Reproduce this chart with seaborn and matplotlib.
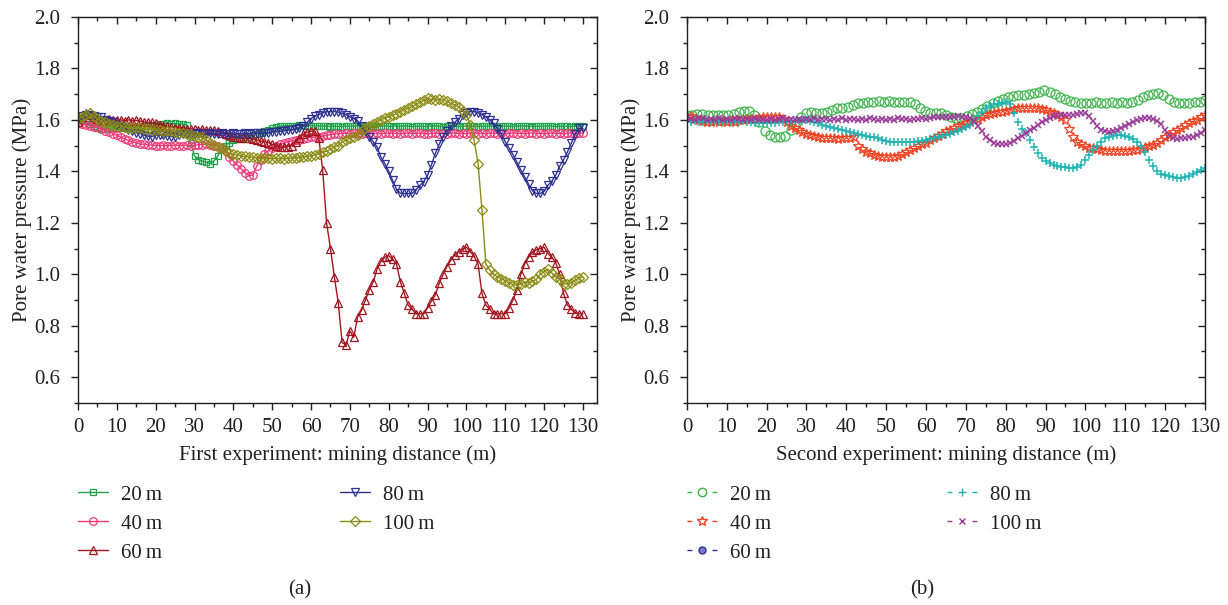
import numpy as np
import matplotlib
matplotlib.use("Agg")
import matplotlib.pyplot as plt
import seaborn as sns
from matplotlib.lines import Line2D
from matplotlib.ticker import MultipleLocator

# ---data: first experiment (1 m steps, 0-130 m)---
dist1 = np.arange(0, 131)

first_20m = [1.600, 1.600, 1.595, 1.585, 1.575, 1.568, 1.566, 1.566, 1.567, 1.568,
             1.568, 1.570, 1.570, 1.572, 1.572, 1.573, 1.574, 1.575, 1.577, 1.578,
             1.580, 1.584, 1.585, 1.586, 1.585, 1.586, 1.585, 1.584, 1.580, 1.510,
             1.460, 1.445, 1.440, 1.435, 1.430, 1.440, 1.460, 1.490, 1.500, 1.512,
             1.520, 1.527, 1.530, 1.532, 1.535, 1.540, 1.545, 1.550, 1.556, 1.562,
             1.568, 1.572, 1.575, 1.576, 1.577, 1.578, 1.578, 1.579, 1.579, 1.578,
             1.578, 1.577, 1.576, 1.576, 1.575, 1.574, 1.576, 1.575, 1.574, 1.576,
             1.575, 1.577, 1.576, 1.574, 1.575, 1.576, 1.575, 1.574, 1.576, 1.577,
             1.575, 1.574, 1.576, 1.575, 1.577, 1.576, 1.574, 1.575, 1.576, 1.575,
             1.574, 1.576, 1.577, 1.575, 1.574, 1.576, 1.575, 1.576, 1.574, 1.575,
             1.577, 1.576, 1.575, 1.574, 1.576, 1.575, 1.577, 1.576, 1.574, 1.575,
             1.576, 1.575, 1.574, 1.576, 1.577, 1.575, 1.576, 1.574, 1.575, 1.576,
             1.575, 1.577, 1.576, 1.574, 1.575, 1.576, 1.575, 1.574, 1.576, 1.575,
             1.575]

first_40m = [1.586, 1.583, 1.580, 1.577, 1.574, 1.572, 1.565, 1.558, 1.553, 1.547,
             1.540, 1.533, 1.526, 1.520, 1.515, 1.510, 1.506, 1.505, 1.503, 1.502,
             1.500, 1.500, 1.501, 1.500, 1.500, 1.502, 1.500, 1.500, 1.502, 1.500,
             1.501, 1.503, 1.504, 1.505, 1.504, 1.500, 1.497, 1.492, 1.480, 1.455,
             1.440, 1.425, 1.410, 1.395, 1.383, 1.385, 1.420, 1.445, 1.468, 1.480,
             1.490, 1.497, 1.505, 1.510, 1.515, 1.518, 1.520, 1.523, 1.526, 1.530,
             1.532, 1.533, 1.535, 1.537, 1.540, 1.543, 1.545, 1.546, 1.547, 1.548,
             1.547, 1.549, 1.548, 1.546, 1.548, 1.549, 1.547, 1.548, 1.546, 1.548,
             1.549, 1.547, 1.548, 1.546, 1.548, 1.549, 1.547, 1.548, 1.549, 1.547,
             1.546, 1.548, 1.549, 1.547, 1.548, 1.546, 1.548, 1.549, 1.547, 1.548,
             1.546, 1.548, 1.549, 1.547, 1.548, 1.546, 1.548, 1.549, 1.547, 1.548,
             1.546, 1.548, 1.549, 1.547, 1.548, 1.546, 1.548, 1.549, 1.547, 1.548,
             1.546, 1.548, 1.549, 1.547, 1.548, 1.546, 1.548, 1.549, 1.547, 1.548,
             1.548]

first_60m = [1.590, 1.610, 1.625, 1.620, 1.610, 1.605, 1.600, 1.600, 1.602, 1.600,
             1.598, 1.600, 1.597, 1.600, 1.596, 1.598, 1.595, 1.592, 1.590, 1.590,
             1.586, 1.582, 1.578, 1.575, 1.572, 1.570, 1.568, 1.566, 1.565, 1.566,
             1.563, 1.562, 1.564, 1.560, 1.562, 1.560, 1.555, 1.550, 1.545, 1.540,
             1.535, 1.532, 1.530, 1.528, 1.528, 1.525, 1.522, 1.518, 1.515, 1.512,
             1.505, 1.498, 1.495, 1.494, 1.496, 1.500, 1.515, 1.530, 1.545, 1.552,
             1.556, 1.556, 1.530, 1.405, 1.200, 1.100, 0.990, 0.890, 0.735, 0.725,
             0.780, 0.755, 0.835, 0.860, 0.900, 0.940, 0.970, 1.020, 1.050, 1.066,
             1.072, 1.058, 1.040, 0.970, 0.926, 0.880, 0.864, 0.846, 0.846, 0.846,
             0.869, 0.896, 0.920, 0.965, 1.000, 1.030, 1.055, 1.075, 1.087, 1.098,
             1.105, 1.087, 1.070, 1.040, 0.926, 0.880, 0.864, 0.846, 0.846, 0.846,
             0.846, 0.869, 0.900, 0.940, 1.000, 1.040, 1.066, 1.087, 1.095, 1.100,
             1.105, 1.080, 1.066, 1.045, 1.000, 0.926, 0.880, 0.864, 0.850, 0.846,
             0.846]

first_80m = [1.600, 1.615, 1.620, 1.620, 1.615, 1.610, 1.610, 1.600, 1.595, 1.590,
             1.580, 1.575, 1.570, 1.560, 1.555, 1.550, 1.547, 1.540, 1.537, 1.535,
             1.540, 1.540, 1.540, 1.537, 1.535, 1.535, 1.540, 1.545, 1.547, 1.547,
             1.545, 1.548, 1.547, 1.546, 1.548, 1.547, 1.545, 1.548, 1.547, 1.546,
             1.548, 1.547, 1.546, 1.548, 1.547, 1.548, 1.549, 1.548, 1.550, 1.550,
             1.552, 1.553, 1.555, 1.557, 1.560, 1.560, 1.565, 1.570, 1.575, 1.590,
             1.605, 1.615, 1.620, 1.627, 1.632, 1.632, 1.632, 1.630, 1.625, 1.620,
             1.612, 1.605, 1.597, 1.575, 1.555, 1.535, 1.515, 1.495, 1.455, 1.430,
             1.400, 1.365, 1.330, 1.315, 1.314, 1.314, 1.314, 1.328, 1.345, 1.360,
             1.385, 1.425, 1.470, 1.505, 1.535, 1.555, 1.575, 1.590, 1.605, 1.620,
             1.627, 1.632, 1.632, 1.627, 1.620, 1.612, 1.600, 1.587, 1.565, 1.545,
             1.515, 1.490, 1.465, 1.435, 1.405, 1.378, 1.350, 1.325, 1.314, 1.314,
             1.322, 1.346, 1.362, 1.385, 1.420, 1.445, 1.475, 1.510, 1.545, 1.567,
             1.567]

first_100m = [1.605, 1.610, 1.620, 1.625, 1.615, 1.605, 1.595, 1.590, 1.585, 1.580,
              1.578, 1.575, 1.573, 1.570, 1.570, 1.568, 1.567, 1.565, 1.563, 1.562,
              1.560, 1.560, 1.558, 1.556, 1.555, 1.554, 1.550, 1.548, 1.545, 1.540,
              1.538, 1.535, 1.532, 1.522, 1.512, 1.502, 1.495, 1.490, 1.480, 1.470,
              1.466, 1.463, 1.460, 1.458, 1.456, 1.454, 1.452, 1.450, 1.450, 1.450,
              1.449, 1.450, 1.450, 1.449, 1.450, 1.452, 1.453, 1.455, 1.456, 1.458,
              1.460, 1.463, 1.468, 1.475, 1.478, 1.485, 1.495, 1.500, 1.515, 1.520,
              1.530, 1.535, 1.540, 1.555, 1.567, 1.575, 1.585, 1.593, 1.600, 1.607,
              1.612, 1.618, 1.624, 1.632, 1.640, 1.645, 1.652, 1.660, 1.668, 1.676,
              1.684, 1.680, 1.677, 1.680, 1.677, 1.672, 1.664, 1.658, 1.651, 1.635,
              1.620, 1.580, 1.520, 1.430, 1.250, 1.040, 1.016, 1.000, 0.990, 0.983,
              0.975, 0.966, 0.960, 0.957, 0.962, 0.970, 0.965, 0.972, 0.980, 1.000,
              1.010, 1.020, 1.005, 0.990, 0.980, 0.964, 0.962, 0.968, 0.977, 0.985,
              0.990]

# ---data: second experiment---
dist2 = np.arange(0, 131)
dist2_20m = np.round(np.arange(0, 101) * 1.3, 1)

second_20m = [1.620, 1.620, 1.622, 1.623, 1.620, 1.619, 1.620, 1.619, 1.620, 1.622,
              1.630, 1.636, 1.636, 1.620, 1.590, 1.556, 1.540, 1.535, 1.534, 1.538,
              1.560, 1.585, 1.610, 1.627, 1.632, 1.628, 1.625, 1.630, 1.638, 1.645,
              1.648, 1.651, 1.658, 1.664, 1.667, 1.670, 1.670, 1.672, 1.670, 1.672,
              1.670, 1.668, 1.670, 1.668, 1.660, 1.648, 1.635, 1.628, 1.625, 1.625,
              1.618, 1.610, 1.606, 1.608, 1.615, 1.622, 1.630, 1.642, 1.655, 1.665,
              1.674, 1.682, 1.688, 1.692, 1.695, 1.698, 1.702, 1.705, 1.709, 1.718,
              1.710, 1.700, 1.690, 1.680, 1.672, 1.668, 1.667, 1.666, 1.667, 1.668,
              1.667, 1.666, 1.668, 1.667, 1.668, 1.666, 1.668, 1.678, 1.688, 1.695,
              1.700, 1.703, 1.695, 1.680, 1.668, 1.666, 1.667, 1.665, 1.668, 1.670,
              1.677]

second_40m = [1.610, 1.615, 1.605, 1.600, 1.595, 1.593, 1.593, 1.595, 1.593, 1.594,
              1.593, 1.595, 1.593, 1.598, 1.600, 1.602, 1.603, 1.605, 1.608, 1.610,
              1.612, 1.612, 1.610, 1.612, 1.605, 1.590, 1.578, 1.570, 1.560, 1.553,
              1.547, 1.540, 1.536, 1.534, 1.530, 1.528, 1.528, 1.528, 1.527, 1.528,
              1.528, 1.530, 1.534, 1.500, 1.485, 1.476, 1.470, 1.463, 1.458, 1.455,
              1.454, 1.455, 1.456, 1.460, 1.467, 1.475, 1.482, 1.489, 1.497, 1.505,
              1.512, 1.520, 1.528, 1.537, 1.545, 1.555, 1.562, 1.570, 1.575, 1.582,
              1.586, 1.592, 1.600, 1.605, 1.610, 1.618, 1.623, 1.627, 1.630, 1.632,
              1.635, 1.640, 1.642, 1.645, 1.645, 1.645, 1.645, 1.645, 1.645, 1.642,
              1.638, 1.632, 1.627, 1.620, 1.610, 1.600, 1.565, 1.535, 1.515, 1.505,
              1.498, 1.492, 1.489, 1.485, 1.483, 1.480, 1.480, 1.478, 1.478, 1.480,
              1.480, 1.480, 1.481, 1.482, 1.487, 1.493, 1.498, 1.502, 1.510, 1.522,
              1.532, 1.540, 1.552, 1.560, 1.568, 1.580, 1.587, 1.594, 1.600, 1.610,
              1.619]

second_80m = [1.595, 1.592, 1.595, 1.593, 1.593, 1.594, 1.593, 1.595, 1.593, 1.592,
              1.594, 1.593, 1.595, 1.593, 1.594, 1.592, 1.590, 1.588, 1.587, 1.586,
              1.586, 1.587, 1.588, 1.590, 1.590, 1.592, 1.593, 1.594, 1.595, 1.597,
              1.598, 1.595, 1.590, 1.586, 1.582, 1.577, 1.573, 1.570, 1.566, 1.560,
              1.555, 1.552, 1.548, 1.544, 1.540, 1.538, 1.535, 1.532, 1.528, 1.522,
              1.517, 1.515, 1.515, 1.514, 1.515, 1.515, 1.514, 1.515, 1.516, 1.518,
              1.522, 1.526, 1.530, 1.534, 1.538, 1.543, 1.547, 1.553, 1.558, 1.565,
              1.572, 1.580, 1.598, 1.615, 1.632, 1.645, 1.655, 1.660, 1.663, 1.665,
              1.668, 1.660, 1.625, 1.590, 1.565, 1.548, 1.520, 1.495, 1.470, 1.450,
              1.440, 1.432, 1.425, 1.420, 1.416, 1.415, 1.414, 1.414, 1.415, 1.425,
              1.445, 1.465, 1.482, 1.500, 1.515, 1.528, 1.534, 1.537, 1.540, 1.541,
              1.538, 1.534, 1.527, 1.515, 1.500, 1.475, 1.445, 1.422, 1.400, 1.390,
              1.385, 1.380, 1.377, 1.375, 1.376, 1.379, 1.383, 1.390, 1.398, 1.406,
              1.412]

second_100m = [1.610, 1.605, 1.600, 1.606, 1.608, 1.600, 1.604, 1.600, 1.606, 1.601,
               1.604, 1.600, 1.606, 1.602, 1.600, 1.605, 1.601, 1.606, 1.600, 1.604,
               1.601, 1.605, 1.600, 1.604, 1.606, 1.600, 1.603, 1.601, 1.605, 1.600,
               1.604, 1.601, 1.606, 1.600, 1.603, 1.605, 1.600, 1.604, 1.601, 1.606,
               1.600, 1.603, 1.605, 1.601, 1.604, 1.600, 1.606, 1.602, 1.600, 1.605,
               1.601, 1.604, 1.600, 1.606, 1.602, 1.604, 1.600, 1.605, 1.602, 1.606,
               1.604, 1.608, 1.610, 1.612, 1.612, 1.611, 1.612, 1.613, 1.615, 1.612,
               1.610, 1.606, 1.595, 1.578, 1.555, 1.535, 1.520, 1.512, 1.508, 1.507,
               1.508, 1.512, 1.518, 1.528, 1.537, 1.548, 1.560, 1.570, 1.580, 1.590,
               1.600, 1.608, 1.614, 1.617, 1.619, 1.620, 1.619, 1.620, 1.624, 1.625,
               1.625, 1.615, 1.595, 1.575, 1.560, 1.555, 1.553, 1.555, 1.560, 1.567,
               1.575, 1.585, 1.593, 1.600, 1.604, 1.606, 1.606, 1.604, 1.597, 1.585,
               1.560, 1.540, 1.528, 1.527, 1.528, 1.530, 1.532, 1.534, 1.540, 1.550,
               1.560]

labels = ["20\u2009m", "40\u2009m", "60\u2009m", "80\u2009m", "100\u2009m"]

# ---style---
sns.set_style("ticks")
plt.rcParams['font.family'] = ['Liberation Serif', 'DejaVu Serif']
FS = 15
plt.rcParams['font.size'] = FS
text_col = "#231f20"
plt.rcParams['text.color'] = text_col
plt.rcParams['axes.labelcolor'] = text_col
plt.rcParams['xtick.color'] = text_col
plt.rcParams['ytick.color'] = text_col

c1 = ["#1fa24b", "#f03a78", "#a3151f", "#2e3192", "#8b8b13"]
m1 = ["s", "o", "^", "v", "D"]
ms1 = [5.0, 5.5, 6.0, 6.0, 5.0]

c2 = ["#3cb44a", "#f04323", "#2e3192", "#1fb3b3", "#9a3a98"]

fig = plt.figure(figsize=(12.28, 6.05), dpi=100)
ax1 = fig.add_axes([0.0635, 0.334, 0.4226, 0.638])
ax2 = fig.add_axes([0.5594, 0.334, 0.4218, 0.638])

# first experiment: lines with hollow markers
series1 = [first_20m, first_40m, first_60m, first_80m, first_100m]
for vals, c, mk, ms in zip(series1, c1, m1, ms1):
    sns.lineplot(x=dist1, y=vals, ax=ax1, color=c, marker=mk, markersize=ms,
                 markerfacecolor="none", markeredgecolor=c, markeredgewidth=0.9,
                 linewidth=1.0, legend=False)

# second experiment: markers only
sns.lineplot(x=dist2_20m, y=second_20m, ax=ax2, color=c2[0], marker="o", markersize=6.5,
             markerfacecolor="none", markeredgecolor=c2[0], markeredgewidth=0.9,
             linestyle="none", legend=False)
sns.lineplot(x=dist2, y=second_40m, ax=ax2, color=c2[1], marker="*", markersize=7,
             markerfacecolor="none", markeredgecolor=c2[1], markeredgewidth=0.9,
             linestyle="none", legend=False)
sns.lineplot(x=dist2, y=second_80m, ax=ax2, color=c2[3], marker="+", markersize=6,
             markeredgecolor=c2[3], markeredgewidth=1.1, linestyle="none", legend=False)
sns.lineplot(x=dist2, y=second_100m, ax=ax2, color=c2[4], marker="x", markersize=5,
             markeredgecolor=c2[4], markeredgewidth=1.1, linestyle="none", legend=False)


def style_axes(ax, xmax, xlabel):
    ax.set_xlim(0, xmax)
    ax.set_ylim(0.5, 2.0)
    ax.xaxis.set_major_locator(MultipleLocator(10))
    ax.xaxis.set_minor_locator(MultipleLocator(5))
    ax.yaxis.set_minor_locator(MultipleLocator(0.1))
    ax.set_yticks(np.arange(0.6, 2.01, 0.2))
    ax.yaxis.set_major_formatter(plt.FuncFormatter(lambda v, p: f"{v:.1f}"))
    ax.tick_params(which="major", direction="out", length=5, width=1.0, labelsize=FS)
    ax.tick_params(which="minor", direction="out", length=3, width=1.0)
    ax.tick_params(axis="x", which="major", pad=6)
    ax.tick_params(axis="y", which="major", pad=7.5)
    for s in ax.spines.values():
        s.set_visible(True)
        s.set_linewidth(1.0)
        s.set_color("#231f20")
    ax.set_xlabel(xlabel, fontsize=FS, labelpad=6)
    ax.set_ylabel("Pore water pressure (MPa)", fontsize=FS, labelpad=2)
    top = ax.secondary_xaxis("top")
    top.xaxis.set_major_locator(MultipleLocator(10))
    top.xaxis.set_minor_locator(MultipleLocator(5))
    top.tick_params(which="both", direction="in", labeltop=False, width=1.0)
    top.tick_params(which="major", length=5)
    top.tick_params(which="minor", length=3)
    right = ax.secondary_yaxis("right")
    right.yaxis.set_major_locator(MultipleLocator(0.2))
    right.yaxis.set_minor_locator(MultipleLocator(0.1))
    right.tick_params(which="both", direction="in", labelright=False, width=1.0)
    right.tick_params(which="major", length=5)
    right.tick_params(which="minor", length=3)


style_axes(ax1, 133.6, "First experiment: mining distance (m)")
style_axes(ax2, 130, "Second experiment: mining distance (m)")

# ---legends under each panel, two columns each---
h1 = [Line2D([], [], color=c, marker=mk, markersize=ms, markerfacecolor="none",
             markeredgecolor=c, markeredgewidth=0.9, linewidth=1.0)
      for c, mk, ms in zip(c1, m1, ms1)]
dash = (0, (3.5, 14.5))
h2 = [Line2D([], [], color=c2[0], linestyle=dash, linewidth=1.0, marker="o", markersize=6,
             markerfacecolor="none", markeredgecolor=c2[0]),
      Line2D([], [], color=c2[1], linestyle=dash, linewidth=1.0, marker="*", markersize=7,
             markerfacecolor="none", markeredgecolor=c2[1]),
      Line2D([], [], color=c2[2], linestyle=dash, linewidth=1.0, marker="o", markersize=5,
             markerfacecolor="#7b7bc8", markeredgecolor=c2[2]),
      Line2D([], [], color=c2[3], linestyle=dash, linewidth=1.0, marker="+", markersize=6,
             markeredgecolor=c2[3]),
      Line2D([], [], color=c2[4], linestyle=dash, linewidth=1.0, marker="x", markersize=5,
             markeredgecolor=c2[4])]

leg_kw = dict(frameon=False, fontsize=FS, handlelength=1.45, handletextpad=0.6,
              labelspacing=0.45, borderpad=0, borderaxespad=0, loc="upper left",
              bbox_transform=fig.transFigure)


def add_legends(ax, handles, x_col1, x_col2):
    l1 = ax.legend(handles[:3], labels[:3], bbox_to_anchor=(x_col1 / 1228, 1 - 485 / 605), **leg_kw)
    ax.add_artist(l1)
    ax.legend(handles[3:], labels[3:], bbox_to_anchor=(x_col2 / 1228, 1 - 485 / 605), **leg_kw)


add_legends(ax1, h1, 78, 340)
add_legends(ax2, h2, 687, 947)

fig.text(300 / 1228, 1 - 590 / 605, "(a)", ha="center", va="center", fontsize=FS)
fig.text(922 / 1228, 1 - 590 / 605, "(b)", ha="center", va="center", fontsize=FS)

fig.savefig("out.png", dpi=100)
